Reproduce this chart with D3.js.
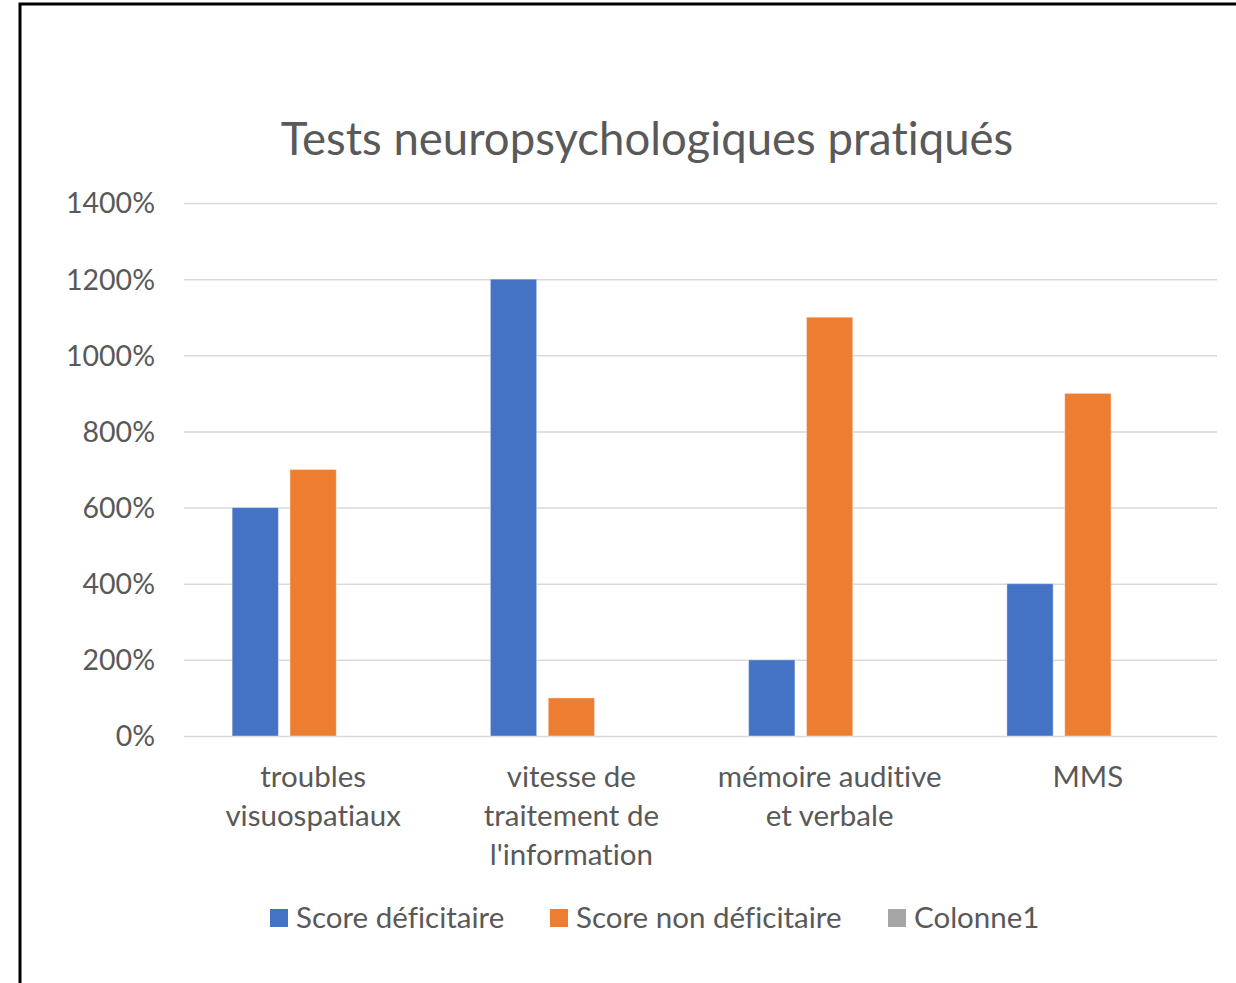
<!DOCTYPE html>
<html>
<head>
<meta charset="utf-8">
<script src="https://cdn.jsdelivr.net/npm/d3@7"></script>
<style>
  body { margin: 0; background: #fff; }
  text { font-family: Lato, "Open Sans", sans-serif; fill: #595959; font-variant-ligatures: none; }
</style>
</head>
<body>
<div id="chart"></div>
<script>
const categories = [
    ["troubles", "visuospatiaux"],
    ["vitesse de", "traitement de", "l'information"],
    ["mémoire auditive", "et verbale"],
    ["MMS"]
];
const seriesNames = ["Score déficitaire", "Score non déficitaire", "Colonne1"];
const deficitaire = [600, 1200, 200, 400];
const nonDeficitaire = [700, 100, 1100, 900];
const colonne1 = [null, null, null, null];
const yTicks = [0, 200, 400, 600, 800, 1000, 1200, 1400];
const colors = ["#4472c4", "#ed7d31", "#a5a5a5"];

const W = 1236, H = 983;
const margin = {top: 203, right: 19, bottom: 247, left: 184};
const width = W - margin.left - margin.right;
const height = H - margin.top - margin.bottom;

const svg = d3.select("#chart")
    .append("svg")
    .attr("width", W)
    .attr("height", H);

// frame (only top and left edges are visible in the crop)
svg.append("path")
    .attr("d", `M20,${H + 5} L20,4 L${W + 5},4`)
    .attr("fill", "none")
    .attr("stroke", "#000")
    .attr("stroke-width", 3);

svg.append("text")
    .attr("x", 647)
    .attr("y", 155)
    .attr("text-anchor", "middle")
    .style("font-size", "45.5px")
    .text("Tests neuropsychologiques pratiqués");

const g = svg.append("g")
    .attr("transform", `translate(${margin.left},${margin.top})`);

const x0 = d3.scaleBand()
    .domain(d3.range(categories.length))
    .range([0, width]);

const x1 = d3.scaleBand()
    .domain(d3.range(seriesNames.length))
    .range([(x0.bandwidth() - 162) / 2, (x0.bandwidth() + 162) / 2])
    .paddingInner(0.2);

const yScale = d3.scaleLinear()
    .domain([0, 1400])
    .range([height, 0]);

// gridlines + y labels
const yAxis = g.append("g")
    .call(d3.axisLeft(yScale).tickValues(yTicks).tickSize(-width).tickFormat(d => d + "%"));
yAxis.select(".domain").remove();
yAxis.selectAll(".tick line").attr("stroke", "#d9d9d9").attr("stroke-width", 1.5);
yAxis.selectAll(".tick text")
    .attr("x", -29)
    .attr("dy", "0.35em")
    .style("font-size", "28.5px");

const data = [deficitaire, nonDeficitaire, colonne1];

data.forEach((vals, s) => {
    g.selectAll(".bar" + s)
        .data(vals.map((v, i) => ({i, v})).filter(d => d.v != null))
        .join("rect")
        .attr("x", d => x0(d.i) + x1(s))
        .attr("y", d => yScale(d.v))
        .attr("width", x1.bandwidth())
        .attr("height", d => height - yScale(d.v))
        .attr("fill", colors[s])
        .attr("stroke", "#fff")
        .attr("stroke-opacity", 0.4)
        .attr("stroke-width", 1);
});

// category labels
const xLab = g.append("g").attr("transform", `translate(0,${height})`);
categories.forEach((lines, i) => {
    const t = xLab.append("text")
        .attr("text-anchor", "middle")
        .attr("x", x0(i) + x0.bandwidth() / 2)
        .style("font-size", "29.5px");
    lines.forEach((ln, k) => {
        t.append("tspan")
            .attr("x", x0(i) + x0.bandwidth() / 2)
            .attr("y", 51 + k * 39)
            .text(ln);
    });
});

// legend
const legendX = [270, 550, 888];
const legend = svg.append("g").attr("transform", "translate(0,918)");
seriesNames.forEach((n, s) => {
    legend.append("rect")
        .attr("x", legendX[s])
        .attr("y", -9)
        .attr("width", 18)
        .attr("height", 18)
        .attr("fill", colors[s]);
    legend.append("text")
        .attr("x", legendX[s] + 26)
        .attr("dy", "0.35em")
        .style("font-size", "29.5px")
        .text(n);
});
</script>
</body>
</html>
